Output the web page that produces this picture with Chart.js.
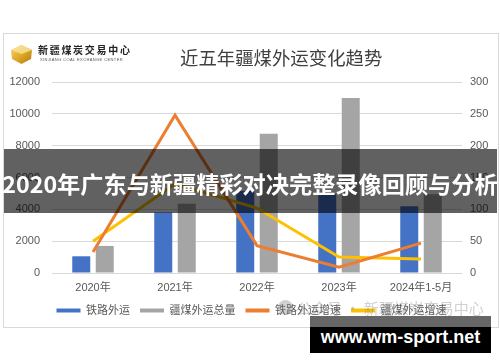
<!DOCTYPE html>
<html><head><meta charset="utf-8">
<script src="https://cdn.jsdelivr.net/npm/chart.js@4/dist/chart.umd.min.js"></script>
<style>
html,body{margin:0;padding:0;background:#fff;}
#wrap{position:relative;width:500px;height:362px;overflow:hidden;font-family:"Liberation Sans","Noto Sans CJK SC",sans-serif;}
#frame{position:absolute;left:3px;top:33px;width:494px;height:293px;border:1px solid #d9d9d9;box-sizing:content-box;}
#c{position:absolute;left:0;top:0;}
.abs{position:absolute;white-space:nowrap;}
#title{left:180px;top:45px;font-size:18.4px;color:#404040;font-family:"Noto Sans CJK SC",sans-serif;line-height:24px;}
#logoText{left:38px;top:43px;font-size:10px;letter-spacing:1.7px;color:#222;font-weight:bold;font-family:"Noto Sans CJK SC",serif;line-height:14px;}
#logoSub{left:40px;top:57px;font-size:4px;letter-spacing:0.4px;color:#555;line-height:5px;}
#banner{left:4px;top:149px;width:493px;height:64px;background:rgba(0,0,0,0.62);}
#bannerText{left:0;top:149px;width:500px;height:64px;line-height:68px;text-align:center;color:#fff;font-weight:bold;font-size:23.2px;font-family:"Noto Sans CJK SC",sans-serif;}
#wm{left:297px;top:298px;font-size:15px;color:rgba(120,120,120,0.35);font-family:"Noto Sans CJK SC",sans-serif;line-height:20px;}
#wmIcon{left:278px;top:300px;width:15px;height:15px;border-radius:50%;background:rgba(120,120,120,0.35);}
#boxTop{left:310px;top:316px;width:181px;height:11px;background:#666;}
#boxBot{left:310px;top:327px;width:181px;height:26px;background:#000;}
#boxText{left:310px;top:322px;width:181px;text-align:center;color:#fff;font-weight:bold;font-size:18px;line-height:30px;font-family:"Liberation Sans",sans-serif;}
</style></head>
<body>
<div id="wrap">
  <div id="frame"></div>
  <canvas id="c" width="500" height="362"></canvas>
  <svg class="abs" style="left:9px;top:44px" width="25" height="21" viewBox="0 0 25 21">
    <defs><linearGradient id="g" x1="0" y1="0" x2="1" y2="1"><stop offset="0" stop-color="#f7d87a"/><stop offset="0.5" stop-color="#e0a928"/><stop offset="1" stop-color="#b07a10"/></linearGradient></defs>
    <polygon points="12.5,1 23,6 22,15 12.5,20 3,15 2,6" fill="url(#g)"/>
    <polygon points="12.5,1 23,6 12.5,10 2,6" fill="#f9e39a" opacity="0.8"/>
  </svg>
  <div class="abs" id="logoText">新疆煤炭交易中心</div>
  <div class="abs" id="logoSub">XINJIANG COAL EXCHANGE CENTER</div>
  <div class="abs" id="title">近五年疆煤外运变化趋势</div>
  <div class="abs" id="wmIcon"></div>
  <div class="abs" id="wm">公众号 · 新疆煤炭交易中心</div>
  <div class="abs" id="banner"></div>
  <div class="abs" id="bannerText">2020年广东与新疆精彩对决完整录像回顾与分析</div>
  <div class="abs" id="boxTop"></div>
  <div class="abs" id="boxBot"></div>
  <div class="abs" id="boxText">www.wm-sport.net</div>
</div>
<script>
const categories = ['2020年', '2021年', '2022年', '2023年', '2024年1-5月'];
const railExport = [1050, 3800, 5150, 4950, 4200];      // 铁路外运
const totalExport = [1700, 4350, 8750, 11000, 4950];    // 疆煤外运总量
const railGrowth = [33, 248, 43, 9, 47];                // 铁路外运增速
const totalGrowth = [50, 140, 102, 25, 22];             // 疆煤外运增速
const seriesNames = ['铁路外运', '疆煤外运总量', '铁路外运增速', '疆煤外运增速'];
const leftAxis = {min: 0, max: 12000, step: 2000};
const rightAxis = {min: 0, max: 300, step: 50};

const colors = ['#4472C4', '#A5A5A5', '#ED7D31', '#FFC000'];
const font = {family: '"Liberation Sans","Noto Sans CJK SC",sans-serif', size: 11};

new Chart(document.getElementById('c'), {
  data: {
    labels: categories,
    datasets: [
      {type: 'bar', label: seriesNames[0], data: railExport, backgroundColor: colors[0], yAxisID: 'y', order: 3,
       categoryPercentage: 0.573, barPercentage: 0.766},
      {type: 'bar', label: seriesNames[1], data: totalExport, backgroundColor: colors[1], yAxisID: 'y', order: 3,
       categoryPercentage: 0.573, barPercentage: 0.766},
      {type: 'line', label: seriesNames[2], data: railGrowth, borderColor: colors[2], backgroundColor: colors[2], borderWidth: 3,
       pointRadius: 0, tension: 0, yAxisID: 'y1', order: 1},
      {type: 'line', label: seriesNames[3], data: totalGrowth, borderColor: colors[3], backgroundColor: colors[3], borderWidth: 3,
       pointRadius: 0, tension: 0, yAxisID: 'y1', order: 2}
    ]
  },
  options: {
    responsive: false,
    animation: false,
    layout: {padding: {left: 3, right: 0, top: 82, bottom: 36}},
    scales: {
      x: {
        offset: true,
        grid: {display: false, drawTicks: false},
        border: {display: false},
        ticks: {color: '#595959', font: font, padding: 8, maxRotation: 0},
        afterFit: s => { s.height = 22; }
      },
      y: {
        position: 'left', min: leftAxis.min, max: leftAxis.max,
        grid: {color: '#D9D9D9', lineWidth: 1, drawTicks: false},
        border: {display: false},
        ticks: {stepSize: leftAxis.step, color: '#595959', font: font, padding: 12, callback: v => String(v)},
        afterFit: s => { s.width = 49; }
      },
      y1: {
        position: 'right', min: rightAxis.min, max: rightAxis.max,
        grid: {display: false, drawTicks: false},
        border: {display: false},
        ticks: {stepSize: rightAxis.step, color: '#595959', font: font, padding: 8, callback: v => String(v)},
        afterFit: s => { s.width = 38; }
      }
    },
    plugins: {
      tooltip: {enabled: false},
      legend: {
        position: 'bottom',
        labels: {
          usePointStyle: true, pointStyleWidth: 24, padding: 10,
          color: '#595959', font: font,
          sort: (a, b) => a.datasetIndex - b.datasetIndex,
          generateLabels: chart => chart.data.datasets.map((ds, i) => ({
            text: ds.label, fillStyle: colors[i], strokeStyle: colors[i], lineWidth: 4,
            pointStyle: 'line', datasetIndex: i, hidden: false, fontColor: '#595959', lineCap: 'butt'
          }))
        }
      }
    }
  }
});
</script>
</body></html>
